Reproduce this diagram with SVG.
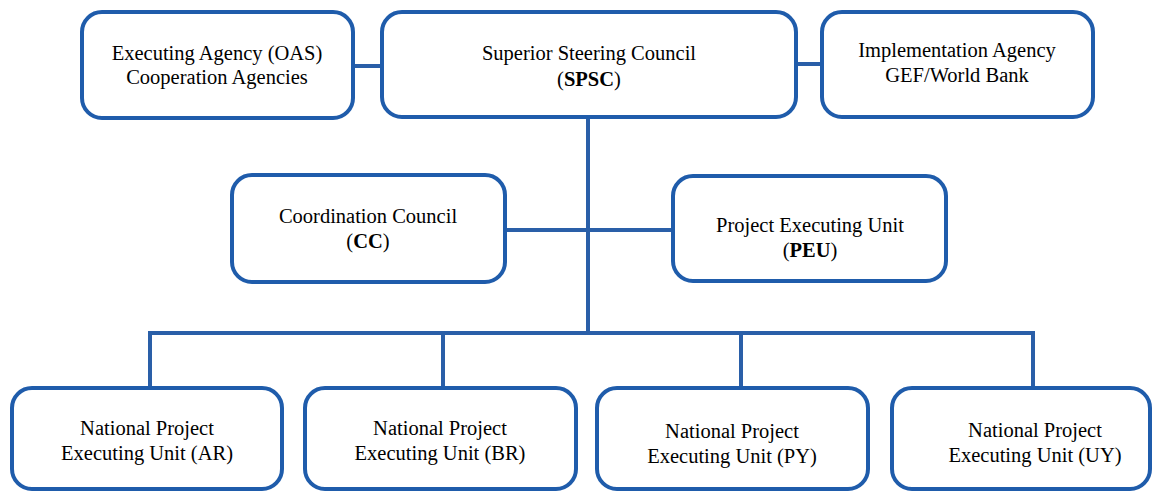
<svg xmlns="http://www.w3.org/2000/svg" width="1156" height="492" viewBox="0 0 1156 492">
<style>
.box{fill:#fff;stroke:#1f5cab;stroke-width:4}
.ln{stroke:#2a5fa8;stroke-width:4;fill:none}
text{font-family:"Liberation Serif","Times New Roman",serif;font-size:20.5px;fill:#000;text-anchor:middle}
.b{font-weight:bold}
</style>
<rect width="1156" height="492" fill="#fff"/>
<g id="connectors">
<line class="ln" x1="353" y1="66" x2="382" y2="66"/>
<line class="ln" x1="796" y1="64" x2="822" y2="64"/>
<line class="ln" x1="588" y1="117" x2="588" y2="333"/>
<line class="ln" x1="505" y1="230" x2="673" y2="230"/>
<polyline class="ln" points="150,388 150,333 1033,333 1033,388"/>
<line class="ln" x1="443" y1="333" x2="443" y2="388"/>
<line class="ln" x1="741" y1="333" x2="741" y2="388"/>
</g>
<g id="executing-agency">
<rect class="box" x="82" y="12" width="271" height="106" rx="20"/>
<text x="217" y="60">Executing Agency  (OAS)</text>
<text x="217" y="84">Cooperation Agencies</text>
</g>
<g id="spsc">
<rect class="box" x="382" y="12" width="414" height="105" rx="20"/>
<text x="589" y="60">Superior Steering Council</text>
<text x="589" y="86">(<tspan class="b">SPSC</tspan>)</text>
</g>
<g id="implementation-agency">
<rect class="box" x="822" y="12" width="271" height="105" rx="20"/>
<text x="957" y="57">Implementation Agency</text>
<text x="957" y="82">GEF/World Bank</text>
</g>
<g id="cc">
<rect class="box" x="232" y="175" width="273" height="107" rx="20"/>
<text x="368" y="223">Coordination Council</text>
<text x="368" y="248">(<tspan class="b">CC</tspan>)</text>
</g>
<g id="peu">
<rect class="box" x="673" y="176" width="273" height="105" rx="20"/>
<text x="810" y="232">Project Executing Unit</text>
<text x="810" y="257">(<tspan class="b">PEU</tspan>)</text>
</g>
<g id="npeu-ar">
<rect class="box" x="12" y="388" width="270" height="101" rx="20"/>
<text x="147" y="435">National Project</text>
<text x="147" y="460">Executing Unit (AR)</text>
</g>
<g id="npeu-br">
<rect class="box" x="305" y="388" width="271" height="101" rx="20"/>
<text x="440" y="435">National Project</text>
<text x="440" y="460">Executing Unit (BR)</text>
</g>
<g id="npeu-py">
<rect class="box" x="597" y="388" width="271" height="101" rx="20"/>
<text x="732" y="438">National Project</text>
<text x="732" y="463">Executing Unit (PY)</text>
</g>
<g id="npeu-uy">
<rect class="box" x="892" y="388" width="258" height="101" rx="20"/>
<text x="1035" y="437">National Project</text>
<text x="1035" y="462">Executing Unit (UY)</text>
</g>
</svg>
